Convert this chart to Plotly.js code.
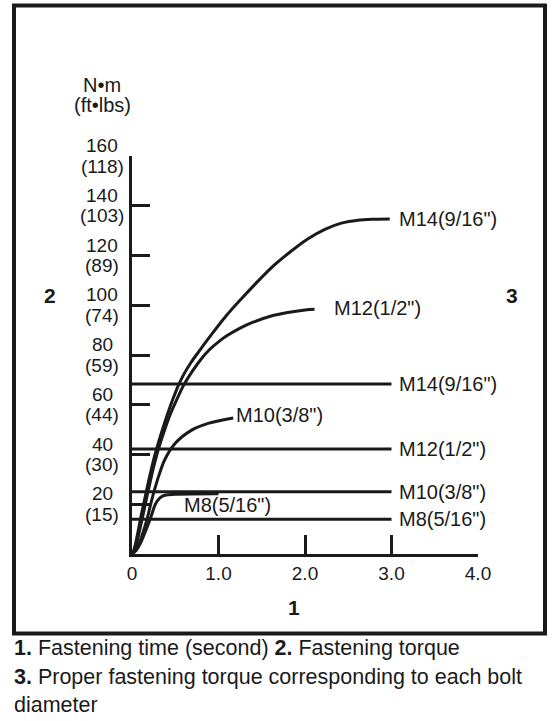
<!DOCTYPE html>
<html>
<head>
<meta charset="utf-8">
<script src="https://cdn.plot.ly/plotly-3.0.1.min.js"></script>
<style>
  html, body { margin: 0; padding: 0; background: #fff; }
  #chart { width: 553px; height: 721px; }
</style>
</head>
<body>
<div id="chart"></div>
<script>
// ---- data (time in seconds, torque in N·m) ----
const m14CurveX = [0, 0.02, 0.04, 0.07, 0.10, 0.14, 0.19, 0.23, 0.27, 0.32, 0.37, 0.42, 0.47, 0.53, 0.60, 0.68, 0.77, 0.90, 1.08, 1.27, 1.46, 1.65, 1.85, 2.04, 2.23, 2.42, 2.61, 2.80, 2.98];
const m14CurveY = [0, 1.5, 4, 9, 14.5, 21, 29, 35, 40.5, 46.5, 52, 57.2, 62, 67.3, 72.3, 76.9, 81.3, 87.4, 95.4, 102.8, 109.8, 116.3, 122, 126.8, 130.5, 133, 134.2, 134.6, 134.7];
const m12CurveX = [0, 0.025, 0.05, 0.085, 0.12, 0.16, 0.21, 0.25, 0.29, 0.34, 0.39, 0.45, 0.52, 0.60, 0.70, 0.80, 0.90, 1.00, 1.10, 1.25, 1.40, 1.60, 1.80, 2.00, 2.11];
const m12CurveY = [0, 1.5, 4, 9, 14.5, 21, 29, 35, 40.3, 46, 51.2, 56.8, 62.3, 68, 73.6, 78.4, 82.3, 85.3, 87.8, 90.8, 93.2, 95.6, 97.1, 98.1, 98.4];
const m10CurveX = [0, 0.04, 0.08, 0.13, 0.17, 0.23, 0.31, 0.38, 0.50, 0.69, 0.88, 1.17];
const m10CurveY = [0, 1.5, 4, 9, 13.5, 22, 31.5, 38, 44.5, 49.8, 52.5, 54.7];
const m8CurveX  = [0, 0.05, 0.10, 0.16, 0.22, 0.27, 0.32, 0.38, 0.50, 1.00];
const m8CurveY  = [0, 1.5, 4.5, 9.5, 15, 20, 22.5, 23.6, 24, 24.2];

const curveLabels = ['M14(9/16")', 'M12(1/2")', 'M10(3/8")', 'M8(5/16")'];
const curveLabelX = [3.07, 2.32, 1.19, 0.59];
const curveLabelY = [134.5, 98.8, 55.8, 19.7];

const properLabels = ['M14(9/16")', 'M12(1/2")', 'M10(3/8")', 'M8(5/16")'];
const properTorque = [68.3, 42.2, 25, 14];
const properLineX = [0, 3.0];
const properLabelX = 3.07;

const xTickVals = [0, 1, 2, 3, 4];
const xTickText = ['0', '1.0', '2.0', '3.0', '4.0'];
const yTickNm = [20, 40, 60, 80, 100, 120, 140, 160];
const yTickFt = [15, 30, 44, 59, 74, 89, 103, 118];

const captionLines = [
  '<b>1.</b> Fastening time (second) <b>2.</b> Fastening torque',
  '<b>3.</b> Proper fastening torque corresponding to each bolt',
  'diameter'
];

// ---- styling ----
const INK = '#1a1a1a';
const FONT = 'Liberation Sans, Arial, Helvetica, sans-serif';
const FS_TICK = 19;
const FS_LABEL = 20;
const FS_CAPTION = 21.5;

// plot area geometry (pixels)
const W = 553, H = 721;
const L = 132, R = 75, T = 156, B = 167;
const PW = W - L - R, PH = H - T - B;
const px2x = p => (p - L) / PW;
const py2y = p => (H - B - p) / PH;

const traces = [];
const curves = [[m14CurveX, m14CurveY], [m12CurveX, m12CurveY], [m10CurveX, m10CurveY], [m8CurveX, m8CurveY]];
curves.forEach(c => {
  traces.push({
    x: c[0], y: c[1], type: 'scatter', mode: 'lines',
    line: { color: INK, width: 3, shape: 'spline', smoothing: 1 },
    hoverinfo: 'skip', showlegend: false
  });
});
properTorque.forEach(v => {
  traces.push({
    x: properLineX, y: properLineX.map(() => v), type: 'scatter', mode: 'lines',
    line: { color: INK, width: 3 }, hoverinfo: 'skip', showlegend: false
  });
});

const annotations = [];
const txt = (text, x, y, size, opts) => Object.assign({
  text, x, y, showarrow: false, font: { family: FONT, size: size, color: INK },
  xanchor: 'center', yanchor: 'middle', borderpad: 0
}, opts || {});

curveLabels.forEach((t, i) => annotations.push(txt(t, curveLabelX[i], curveLabelY[i], FS_LABEL, { xref: 'x', yref: 'y', xanchor: 'left' })));
properLabels.forEach((t, i) => annotations.push(txt(t, properLabelX, properTorque[i], FS_LABEL, { xref: 'x', yref: 'y', xanchor: 'left' })));

yTickNm.forEach((v, i) => {
  annotations.push(txt(String(v), px2x(102), v, FS_TICK, { xref: 'paper', yref: 'y', yshift: 10.5 }));
  annotations.push(txt('(' + yTickFt[i] + ')', px2x(102), v, FS_TICK, { xref: 'paper', yref: 'y', yshift: -10 }));
});

annotations.push(txt('N•m', px2x(102), py2y(85), FS_LABEL, { xref: 'paper', yref: 'paper' }));
annotations.push(txt('(ft•lbs)', px2x(102), py2y(105), FS_LABEL, { xref: 'paper', yref: 'paper' }));

const boldFont = { family: FONT, size: 21, color: INK, weight: 'bold' };
annotations.push(txt('<b>2</b>', px2x(50), py2y(295), 21, { xref: 'paper', yref: 'paper', font: boldFont }));
annotations.push(txt('<b>3</b>', px2x(512), py2y(295), 21, { xref: 'paper', yref: 'paper', font: boldFont }));
annotations.push(txt('<b>1</b>', px2x(294), py2y(607), 21, { xref: 'paper', yref: 'paper', font: boldFont }));

const captionY = [648, 677, 705];
captionLines.forEach((t, i) => annotations.push(txt(t, px2x(13), py2y(captionY[i]), FS_CAPTION, { xref: 'paper', yref: 'paper', xanchor: 'left', align: 'left' })));

const layout = {
  width: W, height: H,
  margin: { l: L, r: R, t: T, b: B, pad: 0 },
  paper_bgcolor: '#fff', plot_bgcolor: '#fff',
  font: { family: FONT, size: FS_TICK, color: INK },
  showlegend: false,
  xaxis: {
    range: [0, 4], showgrid: false, zeroline: false,
    showline: true, linecolor: INK, linewidth: 3,
    ticks: 'inside', ticklen: 19, tickwidth: 3, tickcolor: INK,
    tickvals: xTickVals, ticktext: xTickText,
    tickfont: { family: FONT, size: FS_TICK, color: INK }
  },
  yaxis: {
    range: [0, 160], showgrid: false, zeroline: false,
    showline: true, linecolor: INK, linewidth: 3,
    ticks: 'inside', ticklen: 18, tickwidth: 3, tickcolor: INK,
    tickvals: yTickNm, showticklabels: false
  },
  shapes: [{
    type: 'rect', xref: 'paper', yref: 'paper',
    x0: px2x(14), x1: px2x(545), y0: py2y(633.5), y1: py2y(5.5),
    line: { color: INK, width: 4 }, fillcolor: 'rgba(0,0,0,0)'
  }],
  annotations
};

Plotly.newPlot('chart', traces, layout, { staticPlot: true, displayModeBar: false });
</script>
</body>
</html>
